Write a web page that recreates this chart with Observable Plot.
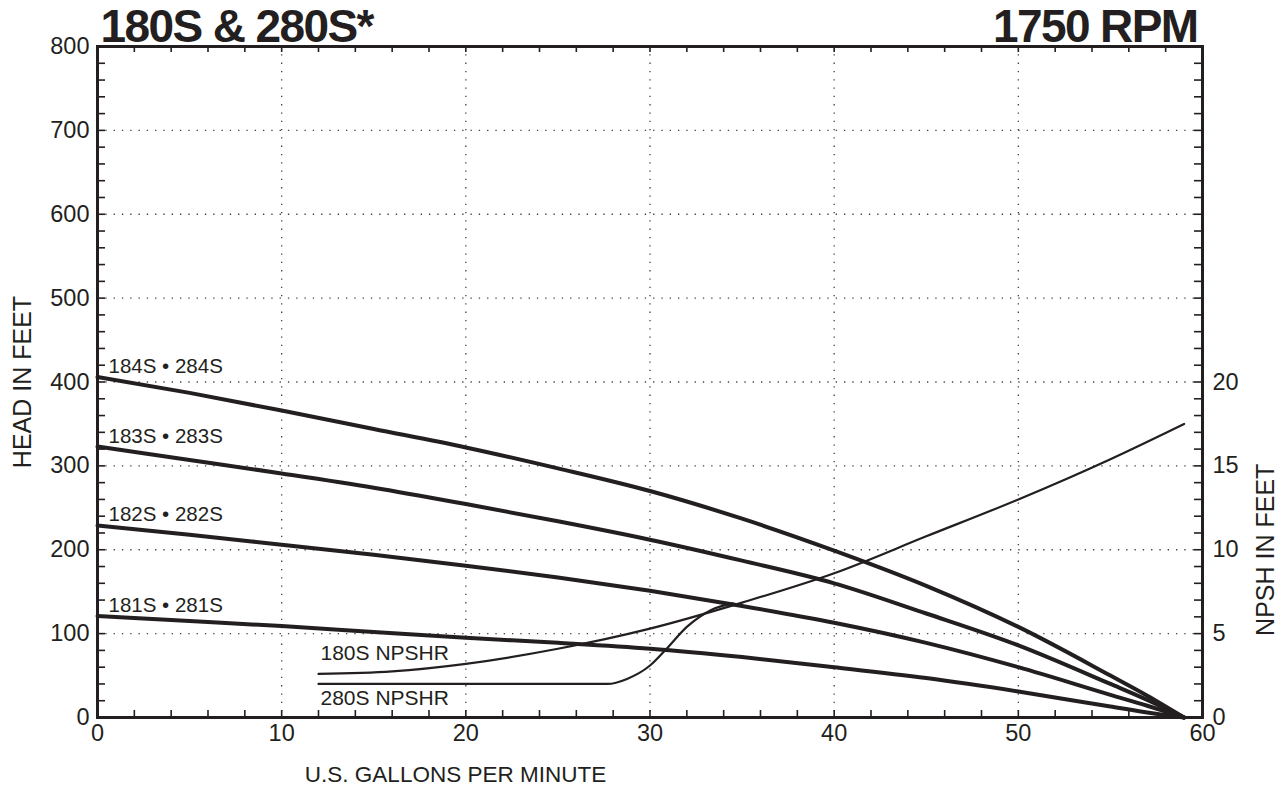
<!DOCTYPE html>
<html>
<head>
<meta charset="utf-8">
<script src="https://cdn.jsdelivr.net/npm/d3@7"></script>
<script src="https://cdn.jsdelivr.net/npm/@observablehq/plot@0.6"></script>
<style>
  html, body { margin: 0; padding: 0; background: #fff; }
  #chart { width: 1284px; height: 786px; }
</style>
</head>
<body>
<div id="chart"></div>
<script>
// ---- Data ----
const gpm = [0, 5, 10, 15, 20, 25, 30, 35, 40, 45, 50, 55, 57, 59];
const head184 = [406, 387, 366, 344, 322, 297, 270, 237, 199, 157, 108, 50, 26, 0];
const head183 = [323, 307, 291, 274, 254.5, 234, 212, 187, 160, 124, 86, 40, 21, 0];
const head182 = [229, 218, 206, 194, 181, 167, 151, 133, 113, 89, 60, 27, 14, 0];
const head181 = [121, 115, 109, 102, 95, 89, 82, 72, 60, 47, 31, 13, 6, 0];
const pumpNames = ["184S • 284S", "183S • 283S", "182S • 282S", "181S • 281S"];

const gpm180 = [12, 16, 20, 25, 30, 35, 40, 45, 50, 55, 59];
const npsh180 = [2.6, 2.75, 3.2, 4.1, 5.3, 6.85, 8.6, 10.8, 13.0, 15.4, 17.5];
const gpm280 = [12, 27.7, 28.75, 30, 30.9, 32, 33.3, 34.5];
const npsh280 = [2.0, 2.0, 2.3, 3.1, 4.1, 5.4, 6.4, 6.8];
const npshrNames = ["180S NPSHR", "280S NPSHR"];

const headTicks = [0, 100, 200, 300, 400, 500, 600, 700, 800];
const npshTicks = [0, 5, 10, 15, 20];
const gpmTicks = [0, 10, 20, 30, 40, 50, 60];
const headGrid = [100, 200, 300, 400, 500, 600, 700];
const gpmGrid = [10, 20, 30, 40, 50];
const headMinor = d3.range(0, 801, 20);
const gpmMinor = d3.range(0, 61, 2);

const titleLeft = "180S & 280S*";
const titleRight = "1750 RPM";
const xTitle = "U.S. GALLONS PER MINUTE";
const yTitle = "HEAD IN FEET";
const y2Title = "NPSH IN FEET";
const npshToHead = 20; // right axis: 20 ft NPSH aligns with 400 ft head

// ---- Tables ----
const heads = [head184, head183, head182, head181];
const pumps = heads.flatMap((arr, i) => arr.map((h, j) => ({name: pumpNames[i], gpm: gpm[j], head: h})));
const pumpStarts = heads.map((arr, i) => ({name: pumpNames[i], gpm: gpm[0], head: arr[0]}));
const n180 = gpm180.map((g, i) => ({name: npshrNames[0], gpm: g, head: npsh180[i] * npshToHead}));
const n280 = gpm280.map((g, i) => ({name: npshrNames[1], gpm: g, head: npsh280[i] * npshToHead}));

const ink = "#231f20";
const W = 1284, H = 786;
const mL = 97, mR = 82, mT = 46, mB = 69;
const fw = W - mL - mR, fh = H - mT - mB;
const tick = 8;

const chart = Plot.plot({
  width: W, height: H,
  marginLeft: mL, marginRight: mR, marginTop: mT, marginBottom: mB,
  style: {fontFamily: "'Liberation Sans', Arial, Helvetica, sans-serif", color: ink, background: "#fff", overflow: "visible"},
  x: {domain: [0, 60]},
  y: {domain: [0, 800]},
  marks: [
    // dotted grid
    Plot.ruleY(headGrid, {stroke: ink, strokeWidth: 1.3, strokeDasharray: "1.3,7", strokeOpacity: 0.85}),
    Plot.ruleX(gpmGrid, {stroke: ink, strokeWidth: 1.3, strokeDasharray: "1.3,7", strokeOpacity: 0.85}),
    // inward ticks
    Plot.ruleY(headMinor, {stroke: ink, strokeWidth: 1.6, insetRight: fw - tick}),
    Plot.ruleY(headMinor, {stroke: ink, strokeWidth: 1.6, insetLeft: fw - tick}),
    Plot.ruleX(gpmMinor, {stroke: ink, strokeWidth: 1.6, insetTop: fh - 7}),
    Plot.ruleX(gpmMinor, {stroke: ink, strokeWidth: 1.6, insetBottom: fh - 6}),
    // axes labels
    Plot.axisY(headTicks, {anchor: "left", tickSize: 0, tickPadding: 8, fontSize: 23.5, label: null}),
    Plot.axisY(npshTicks.map(v => v * npshToHead), {anchor: "right", tickSize: 0, tickPadding: 10, fontSize: 23.5, label: null, tickFormat: d => d / npshToHead}),
    Plot.axisX(gpmTicks, {anchor: "bottom", tickSize: 0, tickPadding: 7, fontSize: 23.5, label: null}),
    // curves
    Plot.line(pumps, {x: "gpm", y: "head", z: "name", curve: "monotone-x", stroke: ink, strokeWidth: 4}),
    Plot.line(n180, {x: "gpm", y: "head", curve: "monotone-x", stroke: ink, strokeWidth: 2.2}),
    Plot.line(n280, {x: "gpm", y: "head", curve: "monotone-x", stroke: ink, strokeWidth: 2.2}),
    // curve labels
    Plot.text(pumpStarts, {x: "gpm", y: "head", text: "name", textAnchor: "start", lineAnchor: "bottom", dx: 11, dy: -4, fontSize: 20.5, fill: ink}),
    Plot.text(n180.slice(0, 1), {x: "gpm", y: "head", text: "name", textAnchor: "start", lineAnchor: "bottom", dx: 2, dy: -14, fontSize: 21, fill: ink}),
    Plot.text(n280.slice(0, 1), {x: "gpm", y: "head", text: "name", textAnchor: "start", lineAnchor: "bottom", dx: 2, dy: 21, fontSize: 21, fill: ink}),
    // frame
    Plot.frame({stroke: ink, strokeWidth: 3}),
    // titles
    Plot.text([titleLeft], {frameAnchor: "top-left", textAnchor: "start", lineAnchor: "bottom", dx: 3, dy: -5, fontSize: 46, fontWeight: "bold", fill: ink, className: "ttl"}),
    Plot.text([titleRight], {frameAnchor: "top-right", textAnchor: "end", lineAnchor: "bottom", dx: -5, dy: -5, fontSize: 46, fontWeight: "bold", fill: ink, className: "ttl"}),
    Plot.text([xTitle], {frameAnchor: "bottom-left", textAnchor: "middle", lineAnchor: "bottom", dx: 358, dy: 64, fontSize: 22.5, fill: ink}),
    Plot.text([yTitle], {frameAnchor: "left", rotate: -90, textAnchor: "middle", lineAnchor: "middle", dx: -75, fontSize: 25, fill: ink}),
    Plot.text([y2Title], {frameAnchor: "right", y: [10 * npshToHead], rotate: -90, textAnchor: "middle", lineAnchor: "middle", dx: 63, fontSize: 25, fill: ink})
  ]
});
// tighten the bold headline like the condensed original
d3.select(chart).selectAll("g.ttl text").style("letter-spacing", "-1.6px");
document.getElementById("chart").appendChild(chart);
</script>
</body>
</html>
